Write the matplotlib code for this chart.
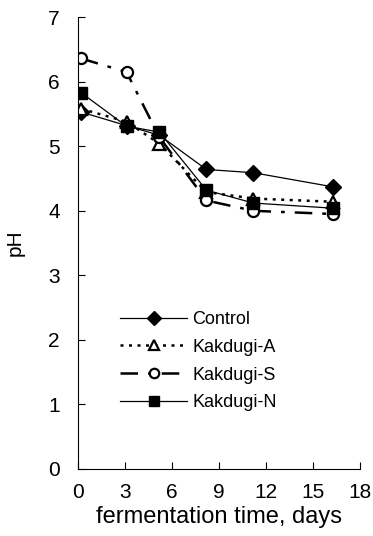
import matplotlib
matplotlib.use("Agg")
import matplotlib.pyplot as plt

plt.rcParams['font.family'] = ['Liberation Sans', 'DejaVu Sans']

# fermentation days and pH for each sample
days = [0.2, 3.1, 5.2, 8.2, 11.2, 16.3]
control = [5.53, 5.32, 5.17, 4.64, 4.59, 4.37]
kakdugi_a = [5.58, 5.38, 5.04, 4.29, 4.19, 4.14]
kakdugi_s = [6.36, 6.15, 5.14, 4.16, 4.00, 3.95]
kakdugi_n = [5.83, 5.31, 5.22, 4.32, 4.12, 4.04]

fig = plt.figure(figsize=(3.73, 5.36), dpi=100)
ax = fig.add_axes([0.209, 0.125, 0.756, 0.843])

ax.plot(days, control, '-', color='black', lw=0.9, marker='D', ms=8,
        mfc='black', mec='black', label='Control')
ax.plot(days, kakdugi_a, color='black', lw=1.8, dashes=(1.2, 2.2), marker='^', ms=8,
        mfc='white', mec='black', mew=1.6, label='Kakdugi-A')
ax.plot(days, kakdugi_s, color='black', lw=1.8, dashes=(7, 4, 1.5, 4), marker='o', ms=8,
        mfc='white', mec='black', mew=1.6, label='Kakdugi-S')
ax.plot(days, kakdugi_n, '-', color='black', lw=0.9, marker='s', ms=8,
        mfc='black', mec='black', label='Kakdugi-N')

ax.set_xlim(0, 18)
ax.set_ylim(0, 7)
ax.set_xticks(range(0, 19, 3))
ax.set_yticks(range(0, 8))
ax.spines['top'].set_visible(False)
ax.spines['right'].set_visible(False)
ax.tick_params(direction='in', labelsize=15, length=5)
ax.tick_params(axis='x', pad=10)
ax.tick_params(axis='y', pad=13)
ax.set_xlabel('fermentation time, days', fontsize=17, labelpad=3)
ax.set_ylabel('pH', fontsize=15, labelpad=17)

ax.legend(loc='upper left', bbox_to_anchor=(0.15, 0.35), frameon=False,
          fontsize=13, handlelength=3.7, labelspacing=0.6, handletextpad=0.3,
          borderpad=0, borderaxespad=0, markerscale=0.85)

fig.savefig('out.png', dpi=100)
